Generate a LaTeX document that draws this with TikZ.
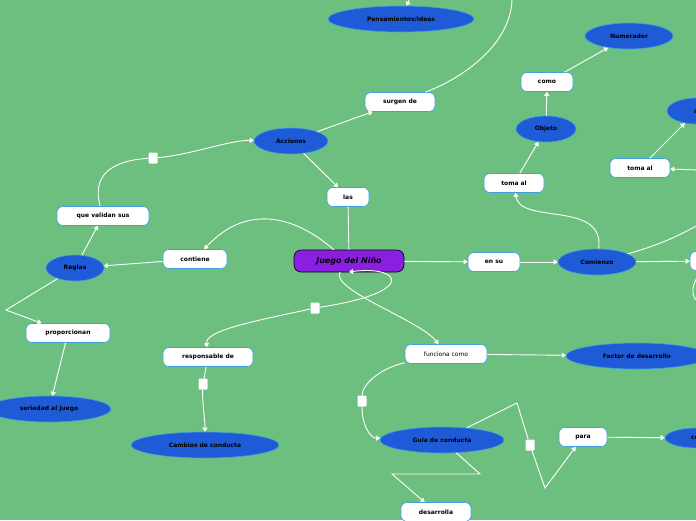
\documentclass[tikz,border=0pt]{standalone}
\usepackage{fontspec}
\setmainfont{DejaVu Sans}
\usetikzlibrary{positioning,shapes.geometric,arrows.meta}
\definecolor{bgreen}{HTML}{6DBF80}
\definecolor{cblue}{HTML}{1F5BD6}
\definecolor{cpurple}{HTML}{8A1FE0}
\definecolor{lblue}{HTML}{3FA0E0}
\tikzset{
  concept/.style={ellipse,fill=cblue,draw=lblue,line width=0.6pt,font=\bfseries\fontsize{6}{7}\selectfont,inner sep=0pt},
  linkbox/.style={rectangle,rounded corners=6pt,fill=white,draw=lblue,line width=0.6pt,font=\bfseries\fontsize{6}{7}\selectfont,minimum height=19pt,inner sep=0pt},
  root/.style={rectangle,rounded corners=7pt,fill=cpurple,draw=black,line width=0.6pt,font=\bfseries\itshape\fontsize{8}{9}\selectfont,minimum width=110pt,minimum height=22pt},
  conn/.style={white,line width=0.9pt},
  arr/.style={conn,-{Triangle[length=4pt,width=5pt]}},
  knob/.style={fill=white,rectangle,rounded corners=1pt,minimum width=9pt,minimum height=11pt,inner sep=0pt}
}
\begin{document}
\begin{tikzpicture}[x=1pt,y=-1pt]
  \fill[bgreen] (0,0) rectangle (696,520);
  \useasboundingbox (0,0) rectangle (696,520);
  \begin{scope}
  \clip (0,0) rectangle (696,520);
  % concepts
  \node[root] (juego) at (349,261) {Juego del Niño};
  \node[concept,minimum width=146pt,minimum height=26pt] (ideas) at (401,19) {Pensamientos/Ideas};
  \node[concept,minimum width=88pt,minimum height=26pt] (numerador) at (629,36) {Numerador};
  \node[concept,minimum width=60pt,minimum height=26pt] (objeto) at (546,129) {Objeto};
  \node[concept,minimum width=60pt,minimum height=26pt] (si) at (697,111) {si};
  \node[concept,minimum width=64pt,minimum height=20pt] (con) at (697,438) {con};
  \node[concept,minimum width=78pt,minimum height=26pt] (comienzo) at (597,262) {Comienzo};
  \node[concept,minimum width=74pt,minimum height=26pt] (acciones) at (291,141) {Acciones};
  \node[concept,minimum width=58pt,minimum height=26pt] (reglas) at (75,268) {Reglas};
  \node[concept,minimum width=124pt,minimum height=26pt] (seriedad) at (49,409) {seriedad al juego};
  \node[concept,minimum width=148pt,minimum height=26pt] (cambios) at (205,445) {Cambios de conducta};
  \node[concept,minimum width=142pt,minimum height=26pt] (factor) at (637,356) {Factor de desarrollo};
  \node[concept,minimum width=124pt,minimum height=26pt] (guia) at (442,440) {Guía de conducta};
  % links
  \node[linkbox,minimum width=52pt] (como) at (547,82) {como};
  \node[linkbox,minimum width=60pt] (tomaA) at (514,183) {toma al};
  \node[linkbox,minimum width=60pt] (tomaB) at (640,168) {toma al};
  \node[linkbox,minimum width=40pt] (derecha) at (710,261) {};
  \node[linkbox,minimum width=52pt] (ensu) at (494,262) {en su};
  \node[linkbox,minimum width=42pt] (las) at (348,197) {las};
  \node[linkbox,minimum width=70pt] (surgen) at (400,102) {surgen de};
  \node[linkbox,minimum width=64pt] (contiene) at (195,259) {contiene};
  \node[linkbox,minimum width=92pt] (validan) at (103,216) {que validan sus};
  \node[linkbox,minimum width=84pt] (proporcionan) at (68,333) {proporcionan};
  \node[linkbox,minimum width=90pt] (responsable) at (208,357) {responsable de};
  \node[linkbox,minimum width=82pt,font=\fontsize{6}{7}\selectfont] (funciona) at (446,354) {funciona como};
  \node[linkbox,minimum width=48pt] (para) at (583,437) {para};
  \node[linkbox,minimum width=70pt] (desarrolla) at (436,512) {desarrolla};
  % off-page ends
  \coordinate (topA) at (410,-2);
  \coordinate (topB) at (512,-2);
  \coordinate (rightA) at (698,225);
  \coordinate (rightB) at (698,170);
  % knobs
  \node[knob] (k1) at (153,158) {};
  \node[knob] (k2) at (315,308) {};
  \node[knob] (k3) at (203,384) {};
  \node[knob] (k4) at (362,401) {};
  \node[knob] (k5) at (530,445) {};
  % connectors
  \draw[conn] (las) -- (juego);
  \draw[arr] (acciones) -- (las);
  \draw[arr] (acciones) -- (surgen);
  \draw[conn] (surgen) .. controls (470,75) and (512,40) .. (topB);
  \draw[arr] (topA) -- (ideas);
  \draw[arr] (juego.north west) ++(40,0) .. controls (300,220) and (250,200) .. (contiene);
  \draw[arr] (contiene) -- (reglas);
  \draw[arr] (reglas) -- (validan);
  \draw[conn] (validan) .. controls (90,170) and (120,160) .. (k1);
  \draw[arr] (k1) .. controls (190,155) and (230,140) .. (acciones);
  \draw[arr] (reglas) -- (6,310) -- (proporcionan);
  \draw[arr] (proporcionan) -- (seriedad);
  \draw[arr] (340,272) .. controls (330,290) and (420,320) .. (funciona);
  \draw[arr] (k2) .. controls (420,292) and (400,265) .. (349,272);
  \draw[arr] (k2) .. controls (260,320) and (205,330) .. (responsable);
  \draw[conn] (responsable) -- (k3);
  \draw[arr] (k3) .. controls (202,400) and (205,420) .. (cambios);
  \draw[arr] (funciona) -- (factor);
  \draw[conn] (funciona) .. controls (380,368) and (362,385) .. (k4);
  \draw[arr] (k4) .. controls (362,425) and (370,438) .. (guia);
  \draw[arr] (guia) -- (480,474) -- (392,474) -- (desarrolla);
  \draw[conn] (guia) -- (517,403) -- (k5);
  \draw[arr] (k5) -- (545,488) -- (para);
  \draw[arr] (para) -- (con);
  \draw[arr] (juego) -- (ensu);
  \draw[arr] (ensu) -- (comienzo);
  \draw[arr] (comienzo) .. controls (605,200) and (520,225) .. (tomaA);
  \draw[arr] (tomaA) -- (objeto);
  \draw[arr] (objeto) -- (como);
  \draw[arr] (como) -- (numerador);
  \draw[arr] (comienzo) -- (derecha);
  \draw[conn] (comienzo) .. controls (660,245) and (680,235) .. (rightA);
  \draw[arr] (rightB) -- (tomaB);
  \draw[arr] (tomaB) -- (si);
  \draw[conn] (derecha) .. controls (690,285) and (692,295) .. (696,300);
  \end{scope}
\end{tikzpicture}
\end{document}
